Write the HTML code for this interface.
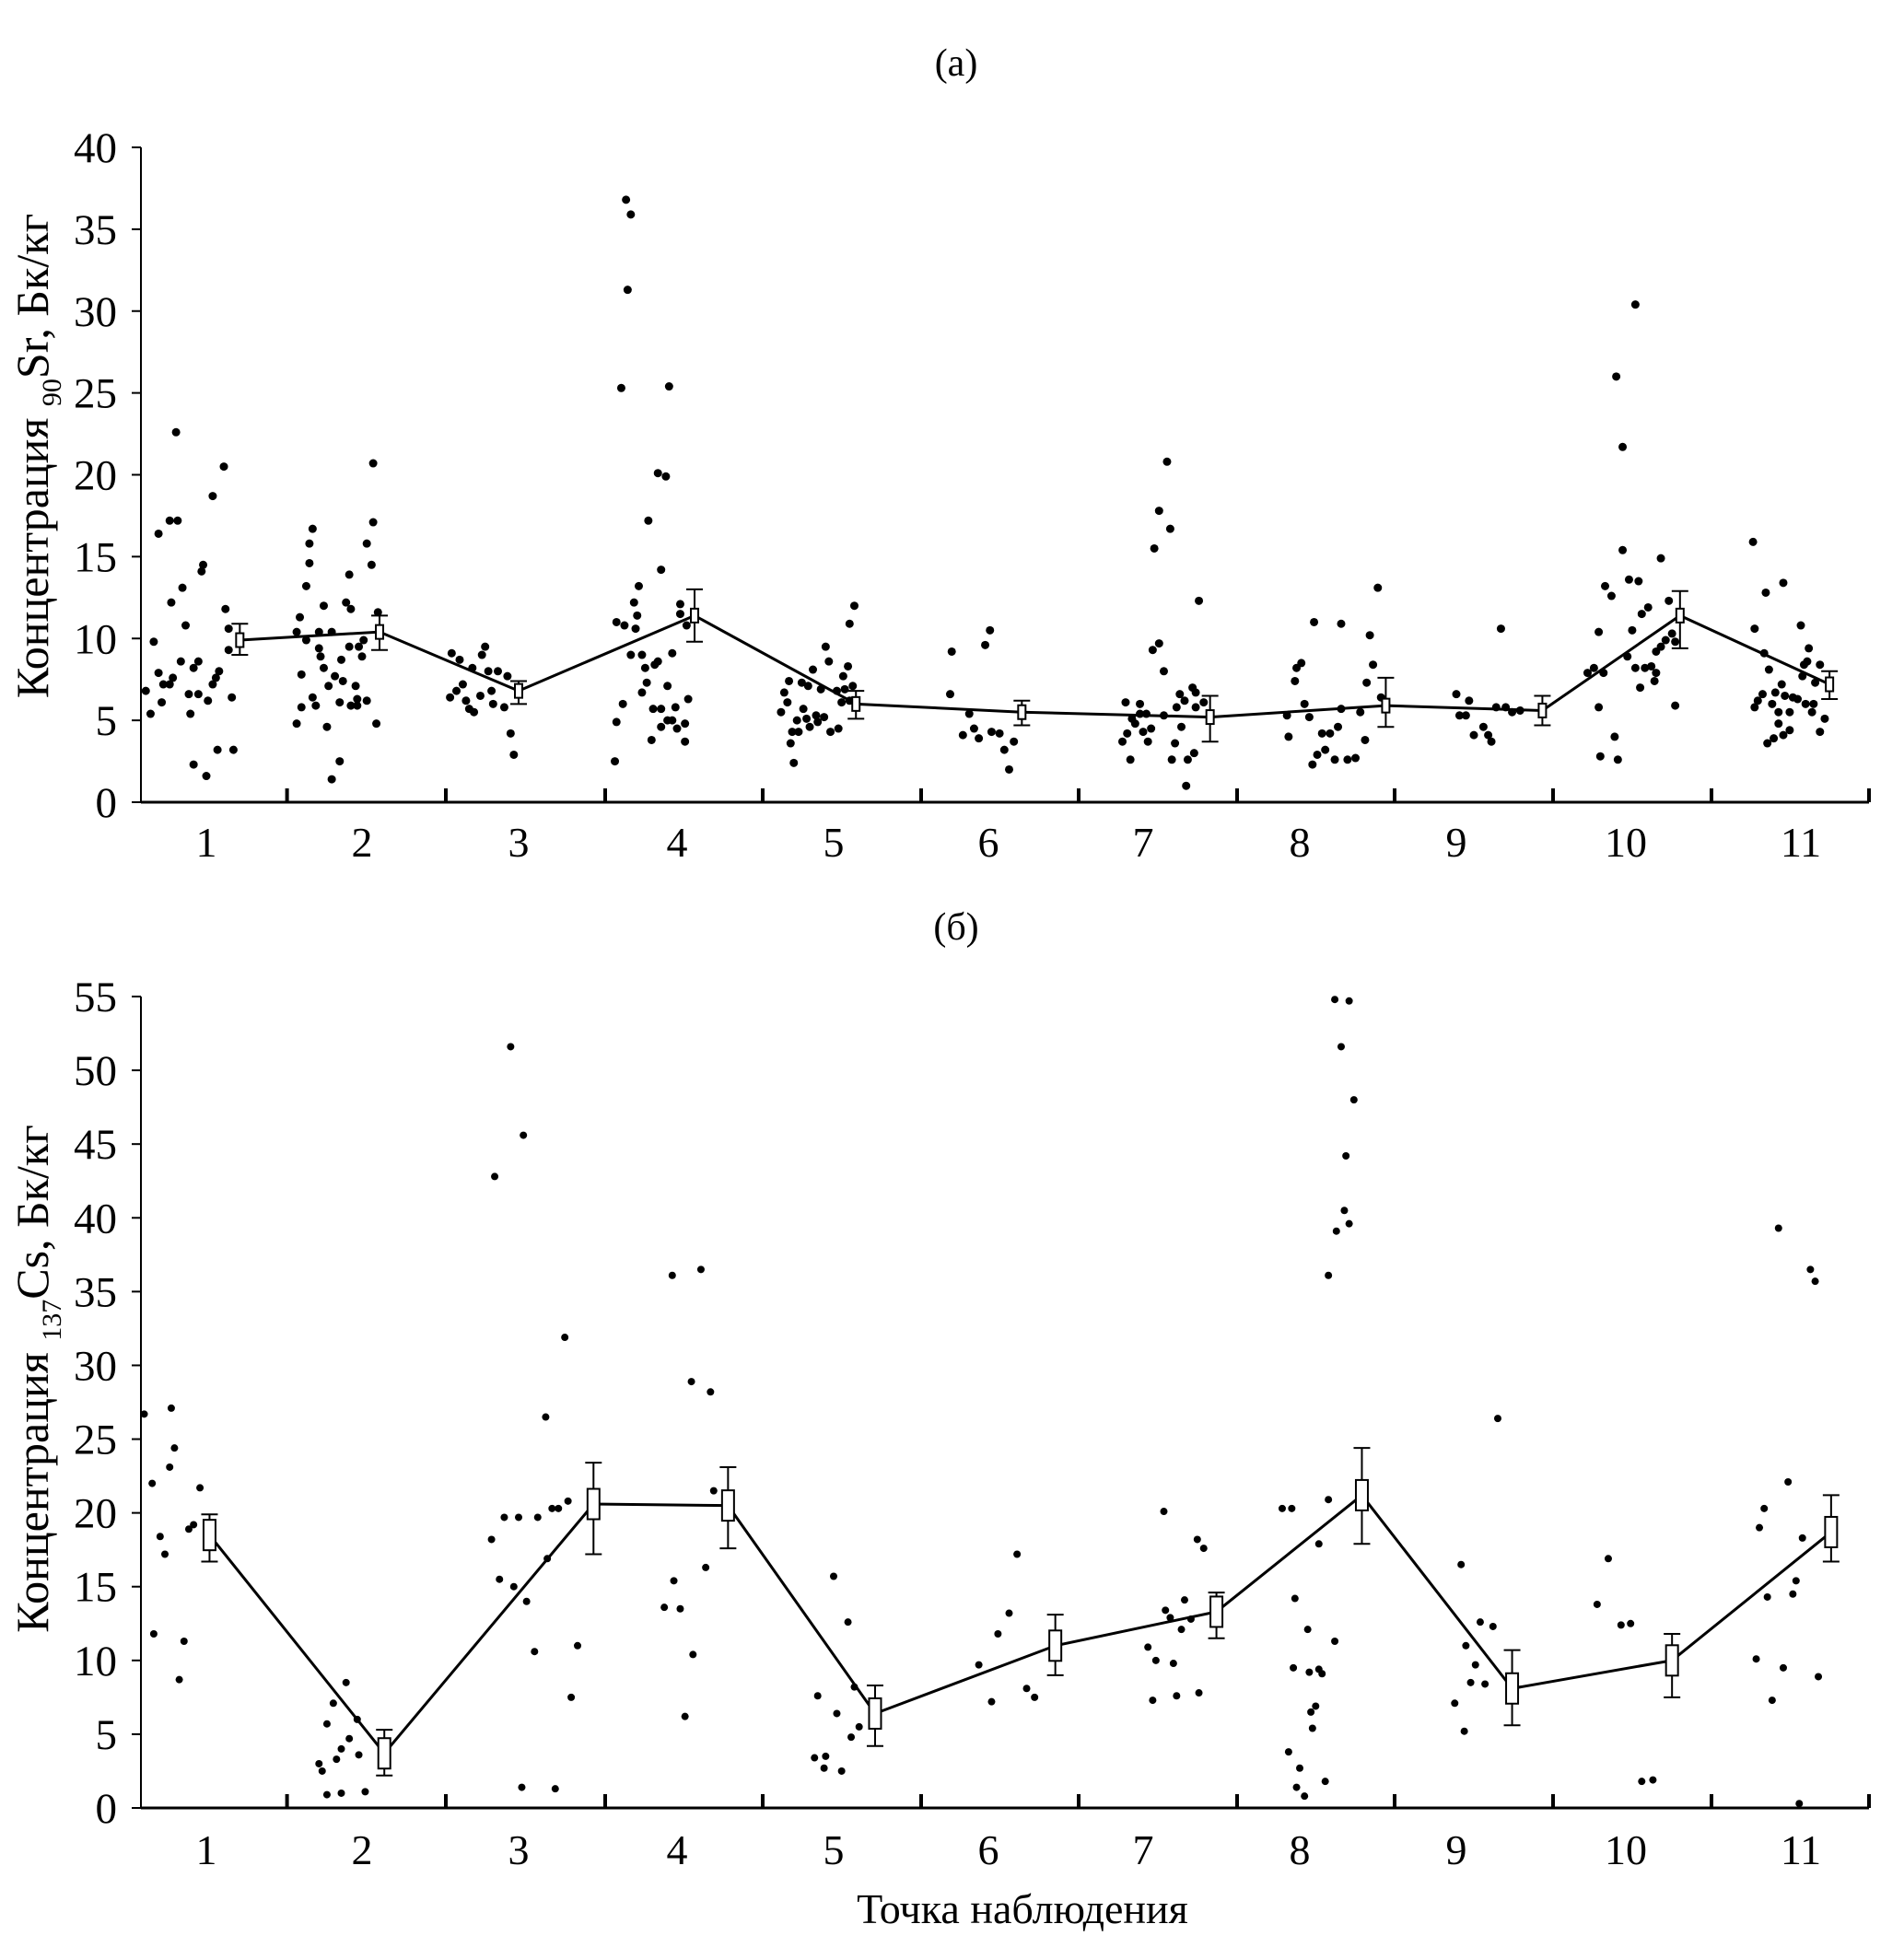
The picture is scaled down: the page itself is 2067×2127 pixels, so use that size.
<!DOCTYPE html>
<html><head><meta charset="utf-8"><style>
html,body{margin:0;padding:0;background:#fff;}
svg{display:block;font-family:"Liberation Serif","DejaVu Serif",serif;}
</style></head>
<body>
<svg id="chart" width="2067" height="2127" viewBox="0 0 2067 2127" xmlns="http://www.w3.org/2000/svg">
<rect width="2067" height="2127" fill="#fff"/>
<text x="1038" y="82" font-size="42" text-anchor="middle">(a)</text>
<text x="1038" y="1020" font-size="42" text-anchor="middle">(б)</text>
<text transform="translate(52,495) rotate(-90)" font-size="50" text-anchor="middle">Концентрация <tspan font-size="30" baseline-shift="-14">90</tspan>Sr, Бк/кг</text>
<text transform="translate(52,1497) rotate(-90)" font-size="50" text-anchor="middle">Концентрация <tspan font-size="30" baseline-shift="-14">137</tspan>Cs, Бк/кг</text>
<text x="1110" y="2088" font-size="46" text-anchor="middle">Точка наблюдения</text>
<g id="pa"></g>
<g id="pb"></g>
</svg>
<script>
const categories = ["1","2","3","4","5","6","7","8","9","10","11"];
const ticksA = [0,5,10,15,20,25,30,35,40];
const ticksB = [0,5,10,15,20,25,30,35,40,45,50,55];
// panel (a) 90Sr points: [offset within category, value]
const srPoints = [
[[-.38,6.8],[-.35,5.4],[-.33,9.8],[-.30,16.4],[-.30,7.9],[-.28,6.1],[-.27,7.2],[-.23,7.2],[-.22,12.2],[-.23,17.2],[-.18,17.2],[-.19,22.6],[-.21,7.6],[-.16,8.6],[-.15,13.1],[-.13,10.8],[-.11,6.6],[-.10,5.4],[-.08,8.2],[-.08,2.3],[-.05,6.6],[-.05,8.6],[-.03,14.1],[-.02,14.5],[0,1.6],[.01,6.2],[.04,18.7],[.04,7.2],[.06,7.6],[.07,3.2],[.08,8.0],[.11,20.5],[.12,11.8],[.14,10.6],[.14,9.3],[.16,6.4],[.17,3.2]],
[[-.41,4.8],[-.41,10.4],[-.39,11.3],[-.38,5.8],[-.38,7.8],[-.35,13.2],[-.35,9.9],[-.33,15.8],[-.33,14.6],[-.31,16.7],[-.31,6.4],[-.29,5.9],[-.27,9.4],[-.27,10.4],[-.26,8.9],[-.24,12.0],[-.24,8.2],[-.22,4.6],[-.21,7.1],[-.19,10.4],[-.19,1.4],[-.17,7.7],[-.14,2.5],[-.14,6.1],[-.13,8.7],[-.12,7.4],[-.10,12.2],[-.08,9.5],[-.08,13.9],[-.07,11.8],[-.07,5.9],[-.04,7.1],[-.03,5.9],[-.03,6.3],[-.02,9.5],[0,8.9],[.01,9.9],[.03,15.8],[.03,6.2],[.06,14.5],[.07,20.7],[.07,17.1],[.09,4.8],[.10,11.6]],
[[-.42,9.1],[-.43,6.4],[-.39,6.8],[-.37,8.7],[-.35,7.2],[-.33,6.2],[-.31,5.7],[-.29,8.2],[-.28,5.5],[-.24,6.5],[-.23,9.0],[-.21,9.5],[-.19,8.0],[-.17,6.8],[-.16,6.0],[-.13,8.0],[-.09,5.8],[-.07,7.7],[-.05,4.2],[-.03,2.9]],
[[-.39,2.5],[-.38,4.9],[-.38,11.0],[-.34,6.0],[-.35,25.3],[-.33,10.8],[-.32,36.8],[-.31,31.3],[-.29,35.9],[-.29,9.0],[-.27,12.2],[-.26,10.6],[-.25,11.4],[-.24,13.2],[-.22,9.0],[-.22,6.7],[-.20,8.2],[-.19,7.3],[-.18,17.2],[-.16,3.8],[-.15,5.7],[-.14,8.4],[-.12,8.6],[-.12,20.1],[-.10,14.2],[-.10,4.6],[-.10,5.7],[-.07,19.9],[-.06,5.0],[-.06,7.1],[-.05,25.4],[-.03,9.1],[-.03,5.0],[-.01,5.8],[0,4.5],[.02,12.1],[.02,11.5],[.05,4.8],[.05,3.7],[.06,10.8],[.07,6.3]],
[[-.33,5.5],[-.31,6.7],[-.29,6.1],[-.28,7.4],[-.27,3.6],[-.26,4.3],[-.25,2.4],[-.23,5.0],[-.22,4.3],[-.20,7.3],[-.19,5.7],[-.17,5.1],[-.16,7.1],[-.15,4.6],[-.13,8.1],[-.11,5.3],[-.10,4.9],[-.08,6.9],[-.06,5.2],[-.05,9.5],[-.03,8.6],[-.02,4.3],[.02,6.8],[.03,4.5],[.05,6.1],[.06,7.7],[.07,6.9],[.09,8.3],[.10,10.9],[.12,7.1],[.13,12.0],[.10,6.2]],
[[-.24,6.6],[-.23,9.2],[-.16,4.1],[-.12,5.4],[-.09,4.5],[-.06,3.9],[-.02,9.6],[.01,10.5],[.02,4.3],[.07,4.2],[.10,3.2],[.13,2.0],[.16,3.7]],
[[-.13,3.7],[-.11,6.1],[-.10,4.2],[-.08,2.6],[-.07,5.1],[-.05,4.8],[-.02,6.0],[-.02,5.4],[0,4.3],[.02,5.4],[.03,3.7],[.05,4.5],[.06,9.3],[.07,15.5],[.10,9.7],[.10,17.8],[.13,8.0],[.13,5.3],[.15,20.8],[.17,16.7],[.18,2.6],[.20,3.6],[.21,5.8],[.23,6.6],[.24,4.6],[.26,6.2],[.27,1.0],[.28,2.6],[.31,7.0],[.32,3.0],[.33,6.7],[.35,12.3],[.33,5.8],[.38,6.1]],
[[-.08,5.3],[-.07,4.0],[-.03,7.4],[-.02,8.2],[.01,8.5],[.03,6.0],[.06,5.2],[.08,2.3],[.09,11.0],[.11,2.9],[.14,4.2],[.16,3.2],[.19,4.2],[.22,2.6],[.24,4.6],[.26,10.9],[.26,5.7],[.30,2.6],[.35,2.7],[.38,5.5],[.41,3.8],[.42,7.3],[.44,10.2],[.46,8.4],[.49,13.1],[.51,6.4]],
[[0,6.6],[.02,5.3],[.06,5.3],[.08,6.2],[.11,4.1],[.17,4.6],[.20,4.1],[.22,3.7],[.25,5.8],[.28,10.6],[.31,5.8],[.35,5.5],[.40,5.6]],
[[-.24,7.9],[-.20,8.2],[-.17,5.8],[-.17,10.4],[-.16,2.8],[-.14,7.9],[-.13,13.2],[-.09,12.6],[-.07,4.0],[-.06,26.0],[-.05,2.6],[-.02,21.7],[-.02,15.4],[.01,8.9],[.02,13.6],[.04,10.5],[.06,30.4],[.06,8.2],[.08,13.5],[.09,7.0],[.10,11.5],[.12,8.2],[.14,11.9],[.16,8.3],[.18,7.4],[.19,7.9],[.19,9.2],[.22,14.9],[.22,9.5],[.25,9.9],[.27,12.3],[.29,10.3],[.31,5.9],[.31,9.8]],
[[-.30,15.9],[-.29,5.8],[-.29,10.6],[-.27,6.2],[-.24,6.6],[-.23,9.1],[-.22,12.8],[-.21,3.6],[-.20,8.1],[-.18,6.0],[-.17,3.9],[-.16,6.7],[-.14,4.8],[-.14,5.5],[-.12,7.2],[-.11,13.4],[-.11,4.1],[-.10,6.5],[-.07,5.5],[-.07,4.4],[-.05,6.4],[-.02,6.3],[0,10.8],[.01,7.7],[.02,8.4],[.03,6.0],[.04,8.6],[.05,9.4],[.07,5.5],[.08,6.0],[.09,7.3],[.12,4.3],[.12,8.4],[.15,5.1]]
];
const srMeanOffset = [.21,.11,0,.11,.14,.21,.42,.54,.54,.34,.18];
const srMean = [9.9,10.4,6.8,11.4,6.0,5.5,5.2,5.9,5.6,11.4,7.2];
const srLow = [9.0,9.3,6.0,9.8,5.1,4.7,3.7,4.6,4.7,9.4,6.3];
const srHigh = [10.9,11.4,7.4,13.0,6.8,6.2,6.5,7.6,6.5,12.9,8.0];
// panel (b) 137Cs points
const csPoints = [
[[-.39,26.7],[-.34,22.0],[-.33,11.8],[-.29,18.4],[-.26,17.2],[-.23,23.1],[-.22,27.1],[-.20,24.4],[-.17,8.7],[-.14,11.3],[-.11,18.9],[-.08,19.2],[-.04,21.7]],
[[-.27,3.0],[-.25,2.5],[-.22,5.7],[-.22,0.9],[-.18,7.1],[-.16,3.3],[-.13,1.0],[-.13,4.0],[-.10,8.5],[-.08,4.7],[-.03,6.0],[-.02,3.6],[.02,1.1]],
[[-.17,18.2],[-.15,42.8],[-.12,15.5],[-.09,19.7],[-.05,51.6],[-.03,15.0],[0,19.7],[.02,1.4],[.03,45.6],[.05,14.0],[.10,10.6],[.12,19.7],[.17,26.5],[.18,16.9],[.21,20.3],[.25,20.3],[.29,31.9],[.31,20.8],[.33,7.5],[.23,1.3],[.37,11.0]],
[[-.08,13.6],[-.03,36.1],[-.02,15.4],[.02,13.5],[.05,6.2],[.10,10.4],[.09,28.9],[.15,36.5],[.18,16.3],[.21,28.2],[.23,21.5]],
[[-.12,3.4],[-.10,7.6],[-.06,2.7],[-.05,3.5],[0,15.7],[.02,6.4],[.05,2.5],[.09,12.6],[.11,4.8],[.13,8.2],[.16,5.5]],
[[-.06,9.7],[.02,7.2],[.06,11.8],[.13,13.2],[.18,17.2],[.24,8.1],[.29,7.5]],
[[.03,10.9],[.06,7.3],[.08,10.0],[.13,20.1],[.14,13.4],[.17,12.9],[.19,9.8],[.21,7.6],[.24,12.1],[.26,14.1],[.30,12.8],[.34,18.2],[.35,7.8],[.38,17.6]],
[[-.11,20.3],[-.07,3.8],[-.05,20.3],[-.03,14.2],[-.02,1.4],[0,2.7],[.03,0.8],[-.04,9.5],[.05,12.1],[.06,9.2],[.07,6.5],[.08,5.4],[.10,6.9],[.12,9.4],[.12,17.9],[.14,9.1],[.16,1.8],[.18,36.1],[.18,20.9],[.22,54.8],[.22,11.3],[.23,39.1],[.26,51.6],[.28,40.5],[.29,44.2],[.31,54.7],[.31,39.6],[.34,48.0]],
[[-.01,7.1],[.03,16.5],[.05,5.2],[.06,11.0],[.09,8.5],[.12,9.7],[.15,12.6],[.18,8.4],[.23,12.3],[.26,26.4]],
[[-.18,13.8],[-.11,16.9],[-.03,12.4],[.03,12.5],[.10,1.8],[.17,1.9]],
[[-.28,10.1],[-.26,19.0],[-.23,20.3],[-.21,14.3],[-.18,7.3],[-.14,39.3],[-.11,9.5],[-.08,22.1],[-.05,14.5],[-.03,15.4],[-.01,0.3],[.01,18.3],[.06,36.5],[.09,35.7],[.11,8.9]]
];
const csMeanOffset = [.02,.14,.47,.32,.26,.42,.46,.39,.35,.29,.19];
const csMean = [18.5,3.7,20.6,20.5,6.4,11.0,13.3,21.2,8.1,10.0,18.7];
const csLow = [16.7,2.2,17.2,17.6,4.2,9.0,11.5,17.9,5.6,7.5,16.7];
const csHigh = [19.9,5.3,23.4,23.1,8.3,13.1,14.6,24.4,10.7,11.8,21.2];

const NS = "http://www.w3.org/2000/svg";
function mk(parent, tag, attrs, text){
  const e = document.createElementNS(NS, tag);
  for (const k in attrs) e.setAttribute(k, attrs[k]);
  if (text !== undefined) e.textContent = text;
  parent.appendChild(e);
  return e;
}
const xAxisLeft = 153, xAxisRight = 2029;
const catCenter = [224,393,563,735,905,1073,1241,1411,1581,1765,1955];
const catWidth = 173;
function xPos(ci, off){ return catCenter[ci] + off * catWidth; }
const boundaries = [311.6,484,657,828,1000,1171,1343,1514,1686,1858,2029];

function drawPanel(g, cfg){
  const yScale = v => cfg.y0 - (v / cfg.vmax) * (cfg.y0 - cfg.yTop);
  let e = mk(g, "line", {x1: xAxisLeft, y1: cfg.yTop, x2: xAxisLeft, y2: cfg.y0, stroke: "#000", "stroke-width": 2});
  
  
  e = mk(g, "line", {x1: xAxisLeft, y1: cfg.y0, x2: xAxisRight, y2: cfg.y0, stroke: "#000", "stroke-width": 3});
  
  
  cfg.ticks.forEach(t => {
    const y = yScale(t);
    const tk = mk(g, "line", {x1: xAxisLeft - 10, y1: y, x2: xAxisLeft, y2: y, stroke: "#000", "stroke-width": 2});
    
    
    const lb = mk(g, "text", {x: 127, y: y + 16, "font-size": 47, "text-anchor": "end"}, String(t));
    
    
  });
  boundaries.forEach(bx => {
    const tk = mk(g, "line", {x1: bx, y1: cfg.y0 - 15, x2: bx, y2: cfg.y0, stroke: "#000", "stroke-width": 4});
    
    
  });
  categories.forEach((c, i) => {
    const lb = mk(g, "text", {x: xPos(i, 0), y: cfg.labelY, "font-size": 46, "text-anchor": "middle"}, c);
    
    
  });
  cfg.points.forEach((grp, i) => {
    grp.forEach(p => {
      const d = mk(g, "circle", {cx: xPos(i, p[0]), cy: yScale(p[1]), r: cfg.r, fill: "#000"});
      
      
    });
  });
  const pts = cfg.mean.map((m, i) => xPos(i, cfg.off[i]) + "," + yScale(m)).join(" ");
  const pl = mk(g, "polyline", {points: pts, fill: "none", stroke: "#000", "stroke-width": 3});
  
  
  cfg.mean.forEach((m, i) => {
    const x = xPos(i, cfg.off[i]);
    const yl = yScale(cfg.low[i]), yh = yScale(cfg.high[i]);
    const eb = mk(g, "path", {d: `M${x},${yh}V${yl}M${x-9},${yh}H${x+9}M${x-9},${yl}H${x+9}`, stroke: "#000", "stroke-width": 2, fill: "none"});
    
    
    const bh = cfg.boxH;
    const bx = mk(g, "rect", {x: x - cfg.boxW / 2, y: yScale(m) - bh / 2, width: cfg.boxW, height: bh, fill: "#fff", stroke: "#000", "stroke-width": 2});
    
    
  });
}
drawPanel(document.getElementById("pa"), {prefix: "panel-a", y0: 871, yTop: 160, vmax: 40, ticks: ticksA, labelY: 930, points: srPoints, mean: srMean, low: srLow, high: srHigh, off: srMeanOffset, r: 4.5, boxW: 8, boxH: 15});
drawPanel(document.getElementById("pb"), {prefix: "panel-b", y0: 1963, yTop: 1082, vmax: 55, ticks: ticksB, labelY: 2024, points: csPoints, mean: csMean, low: csLow, high: csHigh, off: csMeanOffset, r: 4, boxW: 13, boxH: 33});
</script>
</body></html>
